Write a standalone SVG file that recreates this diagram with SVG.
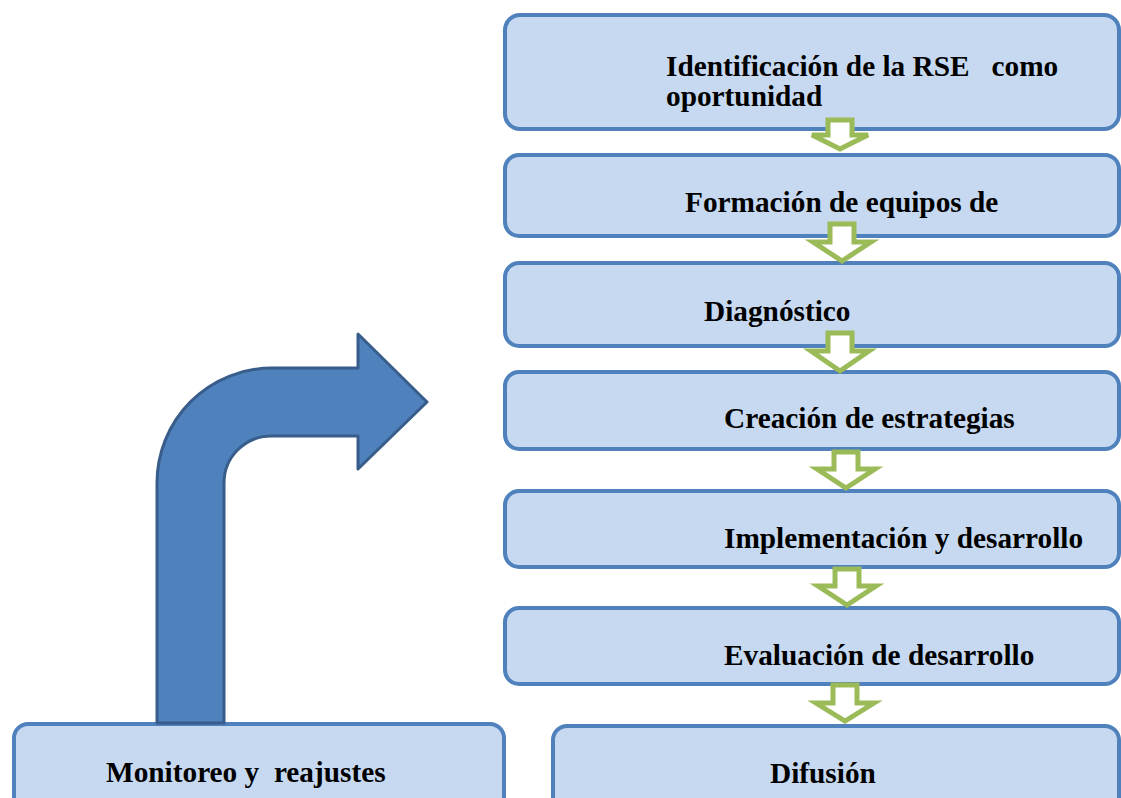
<svg xmlns="http://www.w3.org/2000/svg" width="1121" height="798" viewBox="0 0 1121 798">
<style>
.box{fill:#C6D9F1;stroke:#4F81BD;stroke-width:4}
.lbl{font-family:"Liberation Serif","Times New Roman",serif;font-weight:bold;font-size:29.3px;fill:#000;white-space:pre}
.flow{fill:#FFFFFF;stroke:#9BBB59;stroke-width:5;stroke-linejoin:miter}
.bent{fill:#4F81BD;stroke:#385D8A;stroke-width:3;stroke-linejoin:round}
</style>
<rect width="1121" height="798" fill="#FFFFFF"/>
<g id="n1"><rect class="box" x="505" y="15" width="614" height="114" rx="15"/>
<text class="lbl" x="666" y="76" xml:space="preserve">Identificación de la RSE   como</text>
<text class="lbl" x="666" y="106">oportunidad</text></g>
<g id="n2"><rect class="box" x="505" y="155" width="614" height="81" rx="14"/>
<text class="lbl" x="685" y="212">Formación de equipos de</text></g>
<g id="n3"><rect class="box" x="505" y="263" width="614" height="83" rx="14"/>
<text class="lbl" x="704" y="321">Diagnóstico</text></g>
<g id="n4"><rect class="box" x="505" y="372" width="614" height="77" rx="14"/>
<text class="lbl" x="724" y="428">Creación de estrategias</text></g>
<g id="n5"><rect class="box" x="505" y="491" width="614" height="76" rx="14"/>
<text class="lbl" x="724" y="548">Implementación y desarrollo</text></g>
<g id="n6"><rect class="box" x="505" y="608" width="614" height="76" rx="14"/>
<text class="lbl" x="724" y="665">Evaluación de desarrollo</text></g>
<g id="n7"><rect class="box" x="553" y="726" width="566" height="100" rx="14"/>
<text class="lbl" x="770" y="783">Difusión</text></g>
<g id="n8"><rect class="box" x="14" y="724" width="490" height="100" rx="14"/>
<text class="lbl" x="106" y="782" xml:space="preserve">Monitoreo y  reajustes</text></g>
<g id="connectors">
<path class="bent" d="M157,723 L157,483 A115,115 0 0 1 272,368 L358,368 L358,334 L427,402 L358,469 L358,436 L271,436 A47,47 0 0 0 224,483 L224,723 Z"/>
<path class="flow" d="M828,120 L852,120 L852,135 L868,135 L840,149 L812,135 L828,135 Z"/>
<path class="flow" d="M830,224 L854,224 L854,242 L871,242 L842,261 L813,242 L830,242 Z"/>
<path class="flow" d="M828,333 L852,333 L852,351 L869,351 L840,371 L811,351 L828,351 Z"/>
<path class="flow" d="M834,452 L858,452 L858,469 L875,469 L846,488 L817,469 L834,469 Z"/>
<path class="flow" d="M835,569 L859,569 L859,586 L876,586 L847,605 L818,586 L835,586 Z"/>
<path class="flow" d="M833,685 L857,685 L857,703 L874,703 L845,721 L816,703 L833,703 Z"/>
</g>
</svg>
